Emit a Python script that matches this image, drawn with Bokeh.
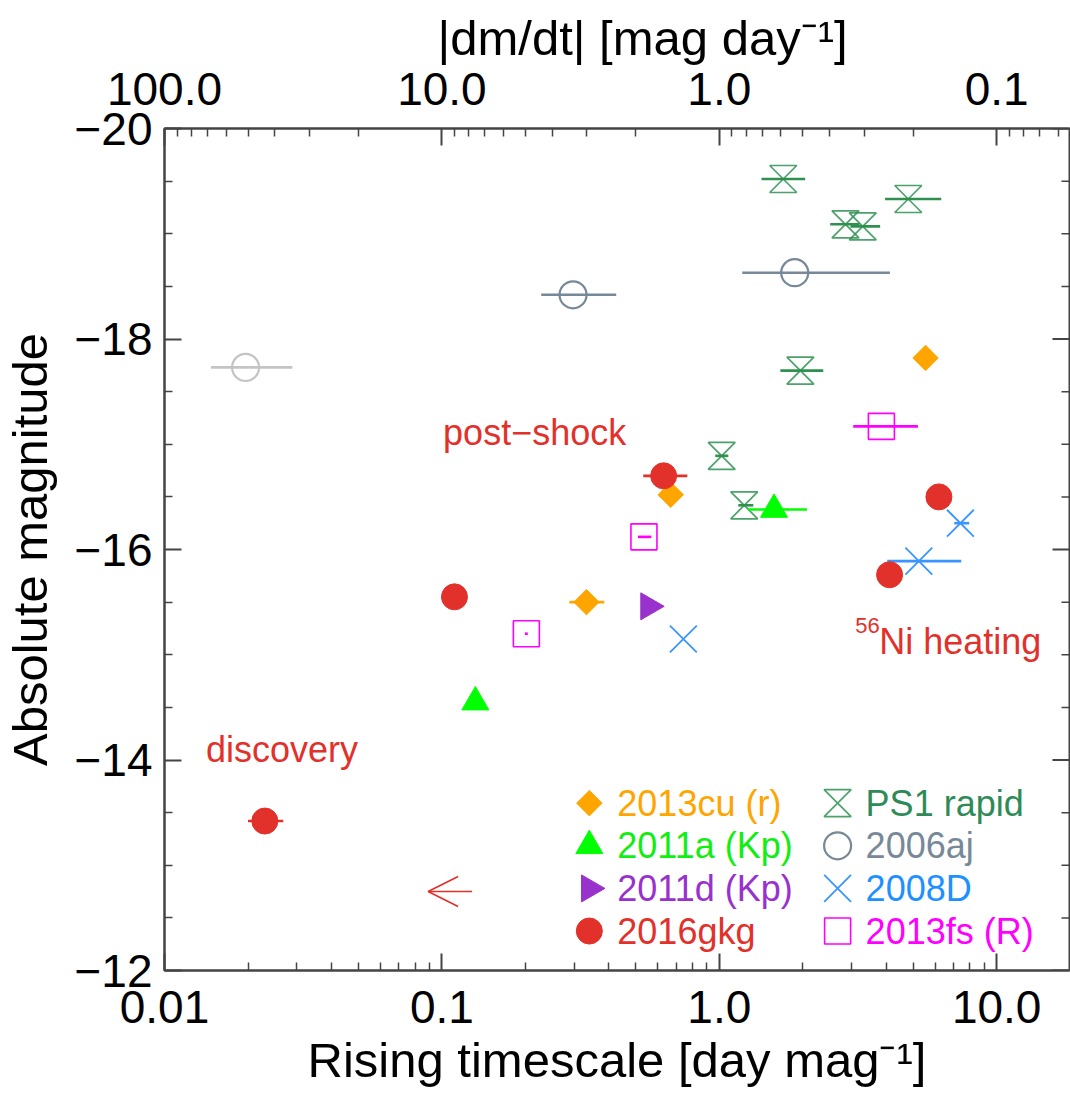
import numpy as np
from bokeh.plotting import figure
from bokeh.models import (Range1d, LogScale, LogAxis, FixedTicker,
                          CustomJSTickFormatter, Label, Arrow, OpenHead)
from bokeh.embed import file_html
from bokeh.resources import INLINE

# ---------------- data: rising timescale [day/mag] vs peak absolute magnitude ----------------
# PS1 rapid transients
ps1_x = [1.70, 2.85, 3.29, 4.80, 1.96, 1.02, 1.23]
ps1_lo = [1.42, 2.51, 2.97, 3.96, 1.66, 0.967, 1.171]
ps1_hi = [2.04, 3.20, 3.80, 6.31, 2.37, 1.078, 1.326]
ps1_mag = [-19.52, -19.09, -19.07, -19.33, -17.70, -16.89, -16.42]

# SN 2006aj
aj_x = [0.297, 1.87]
aj_lo = [0.228, 1.21]
aj_hi = [0.425, 4.12]
aj_mag = [-18.42, -18.63]

# SN 2006aj, earliest phase
aj0_x = [0.0196]
aj0_lo = [0.0147]
aj0_hi = [0.0289]
aj0_mag = [-17.73]

# SN 2013cu (r)
cu_x = [0.332, 0.668, 5.54]
cu_lo = [0.288, 0.668, 5.54]
cu_hi = [0.385, 0.668, 5.54]
cu_mag = [-15.50, -16.52, -17.82]

# KSN 2011a (Kp)
k11a_x = [0.132, 1.575]
k11a_lo = [0.132, 1.27]
k11a_hi = [0.132, 2.07]
k11a_mag = [-14.55, -16.38]

# KSN 2011d (Kp)
k11d_x = [0.556]
k11d_mag = [-15.46]

# SN 2008D
d08_x = [0.742, 5.24, 7.40]
d08_lo = [0.742, 4.03, 7.03]
d08_hi = [0.742, 7.45, 7.96]
d08_mag = [-15.15, -15.89, -16.25]

# SN 2013fs (R)
fs_x = [0.2016, 0.535, 3.84]
fs_lo = [0.199, 0.509, 3.04]
fs_hi = [0.204, 0.569, 5.20]
fs_mag = [-15.20, -16.12, -17.17]

# SN 2016gkg
gkg_x = [0.0230, 0.111, 0.630, 4.11, 6.19]
gkg_lo = [0.0200, 0.111, 0.532, 4.11, 6.19]
gkg_hi = [0.0268, 0.111, 0.767, 4.11, 6.19]
gkg_mag = [-13.42, -15.55, -16.70, -15.76, -16.50]

# SN 2016gkg limit (arrow from the bound towards shorter timescales)
gkg_limit_from = 0.1285
gkg_limit_to = 0.0892
gkg_limit_mag = -12.75

# legend layout (two columns, four rows)
legend_col_x = [0.34, 2.67]
legend_row_mag = [-13.59, -13.185, -12.78, -12.375]

# axis ticks
x_major = [0.01, 0.1, 1.0, 10.0]
x_minor = [m * 10.0 ** e for e in (-2, -1, 0) for m in range(2, 10)]
rate_major = [100.0, 10.0, 1.0, 0.1]
rate_minor = [m * 10.0 ** e for e in (1, 0, -1) for m in range(2, 10)] + [0.09, 0.08, 0.07, 0.06]
y_major = [-20, -18, -16, -14, -12]
y_minor = [-19.5, -19, -18.5, -17.5, -17, -16.5, -15.5, -15, -14.5, -13.5, -13, -12.5]

# ---------------- styling ----------------
RED = "#e2312b"
ORANGE = "#ffa500"
LIME = "#00ff00"
ORCHID = "#9932cc"
GREEN = "#2e9150"
SLATE = "#778899"
LIGHT = "#c4c4c4"
BLUE = "#3a95ff"
MAGENTA = "#ff00ff"
AXIS = "#444444"
FONT = "Liberation Sans"

X_START, X_END = 0.01, 18.3
Y_TOP, Y_BOTTOM = -20.0, -12.0
FRAME_W, FRAME_H = 905, 842
PX_PER_DEC = FRAME_W / np.log10(X_END / X_START)
PX_PER_MAG = FRAME_H / (Y_BOTTOM - Y_TOP)

p = figure(x_axis_type="log", x_range=Range1d(X_START, X_END),
           y_range=Range1d(Y_BOTTOM, Y_TOP),
           frame_width=FRAME_W, frame_height=FRAME_H,
           min_border_left=163, min_border_top=128, min_border_bottom=126, min_border_right=2,
           output_backend="svg", toolbar_location=None)
p.outline_line_color = AXIS
p.outline_line_width = 2
p.xgrid.visible = False
p.ygrid.visible = False
p.background_fill_color = "white"
p.border_fill_color = "white"

x_fmt = CustomJSTickFormatter(code="""
    return tick >= 1 ? tick.toFixed(1) : String(Number(tick.toPrecision(6)));
""")
y_fmt = CustomJSTickFormatter(code="""
    return (tick < 0 ? "\\u2212" : "") + Math.abs(tick).toFixed(0);
""")


def style_axis(ax):
    ax.axis_line_color = AXIS
    ax.axis_line_width = 2
    ax.major_tick_line_color = AXIS
    ax.major_tick_line_width = 2
    ax.minor_tick_line_color = AXIS
    ax.minor_tick_line_width = 1.5
    ax.major_tick_in = 17
    ax.major_tick_out = 0
    ax.minor_tick_in = 8
    ax.minor_tick_out = 0
    ax.major_label_text_font = FONT
    ax.major_label_text_font_size = "46px"
    ax.major_label_text_color = "black"
    ax.axis_label_text_font = FONT
    ax.axis_label_text_font_size = "49px"
    ax.axis_label_text_font_style = "normal"
    ax.axis_label_text_color = "black"


xa = p.xaxis[0]
xa.ticker = FixedTicker(ticks=x_major, minor_ticks=x_minor)
xa.formatter = x_fmt
xa.axis_label = "Rising timescale [day mag\u207b\u00b9]"
style_axis(xa)
xa.major_label_standoff = 20
xa.axis_label_standoff = 7

ya = p.yaxis[0]
ya.ticker = FixedTicker(ticks=y_major, minor_ticks=y_minor)
ya.formatter = y_fmt
ya.axis_label = "Absolute magnitude"
style_axis(ya)
ya.major_label_standoff = 12
ya.axis_label_standoff = 14

# |dm/dt| on top is the inverse of the rising timescale
p.extra_x_ranges = {"rate": Range1d(1.0 / X_START, 1.0 / X_END)}
p.extra_x_scales = {"rate": LogScale()}
top = LogAxis(x_range_name="rate")
top.ticker = FixedTicker(ticks=rate_major, minor_ticks=rate_minor)
top.formatter = x_fmt
style_axis(top)
top.major_label_standoff = 24
p.add_layout(top, "above")

# title of the upper axis
p.title.text = "|dm/dt| [mag day\u207b\u00b9]"
p.title.align = "left"
p.title.offset = 273
p.title.standoff = 10
p.title.text_font = FONT
p.title.text_font_size = "49px"
p.title.text_font_style = "normal"
p.title.text_color = "black"

# inward ticks along the right edge of the frame
p.ray(x=[X_END] * len(y_major), y=y_major, length=17, length_units="screen",
      angle=np.pi, line_color=AXIS, line_width=2)
p.ray(x=[X_END] * len(y_minor), y=y_minor, length=8, length_units="screen",
      angle=np.pi, line_color=AXIS, line_width=1.5)


def hbars(x_lo, x_hi, mag, color, width=2.6):
    keep = [i for i in range(len(mag)) if x_hi[i] > x_lo[i]]
    if keep:
        p.segment(x0=[x_lo[i] for i in keep], x1=[x_hi[i] for i in keep],
                  y0=[mag[i] for i in keep], y1=[mag[i] for i in keep],
                  line_color=color, line_width=width)


def hourglass(xs, mags, half=13.5):
    """Bow-tie outline (two opposed triangles) around each point, sized in pixels."""
    dl = 10.0 ** (half / PX_PER_DEC)
    dm = half / PX_PER_MAG
    px = [[x / dl, x * dl, x / dl, x * dl] for x in xs]
    py = [[m - dm, m - dm, m + dm, m + dm] for m in mags]
    return px, py


# 2006aj (early, light) and 2006aj
hbars(aj0_lo, aj0_hi, aj0_mag, LIGHT)
p.scatter(aj0_x, aj0_mag, marker="circle", size=27, fill_color=None,
          line_color=LIGHT, line_width=2.2)
hbars(aj_lo, aj_hi, aj_mag, SLATE)
p.scatter(aj_x, aj_mag, marker="circle", size=27, fill_color=None,
          line_color=SLATE, line_width=2.2)

# PS1 rapid
hbars(ps1_lo, ps1_hi, ps1_mag, GREEN)
hx, hy = hourglass(ps1_x, ps1_mag)
p.patches(hx, hy, fill_color=None, line_color=GREEN, line_alpha=0.85, line_width=1.7)

# 2013fs
hbars(fs_lo, fs_hi, fs_mag, MAGENTA)
p.scatter(fs_x, fs_mag, marker="square", size=26, fill_color=None,
          line_color=MAGENTA, line_width=1.6)

# 2008D
hbars(d08_lo, d08_hi, d08_mag, BLUE)
p.scatter(d08_x, d08_mag, marker="x", size=38, line_color=BLUE, line_width=1.8)

# 2011d
p.scatter(k11d_x, k11d_mag, marker="triangle", angle=-np.pi / 2, size=27,
          fill_color=ORCHID, line_color=ORCHID)

# 2011a
hbars(k11a_lo, k11a_hi, k11a_mag, LIME)
p.scatter(k11a_x, k11a_mag, marker="triangle", size=27, fill_color=LIME, line_color=LIME)

# 2013cu
hbars(cu_lo, cu_hi, cu_mag, ORANGE)
p.scatter(cu_x, cu_mag, marker="square", angle=np.pi / 4, size=18,
          fill_color=ORANGE, line_color=ORANGE)

# 2016gkg
hbars(gkg_lo, gkg_hi, gkg_mag, RED)
p.scatter(gkg_x, gkg_mag, marker="circle", size=26, fill_color=RED, line_color=RED)
p.add_layout(Arrow(end=OpenHead(size=30, line_color=RED, line_width=1.6),
                   x_start=gkg_limit_from, y_start=gkg_limit_mag,
                   x_end=gkg_limit_to, y_end=gkg_limit_mag,
                   line_color=RED, line_width=1.6))


# phase annotations
def note(text, x, y, size="36px", x_off=0, y_off=0):
    p.add_layout(Label(x=x, y=y, text=text, x_offset=x_off, y_offset=y_off + 12,
                       text_font=FONT, text_font_size=size, text_color=RED,
                       text_baseline="alphabetic", text_align="left"))


note("post\u2212shock", 0.101, -17.0)
note("discovery", 0.0141, -13.99)
note("56", 3.09, -15.01, size="22px", y_off=16)
note("Ni heating", 3.09, -15.01, x_off=24)

# legend
c1, c2 = legend_col_x
r = legend_row_mag
p.scatter([c1], [r[0]], marker="square", angle=np.pi / 4, size=18,
          fill_color=ORANGE, line_color=ORANGE)
p.scatter([c1], [r[1]], marker="triangle", size=27, fill_color=LIME, line_color=LIME)
p.scatter([c1], [r[2]], marker="triangle", angle=-np.pi / 2, size=27,
          fill_color=ORCHID, line_color=ORCHID)
p.scatter([c1], [r[3]], marker="circle", size=26, fill_color=RED, line_color=RED)
lx, ly = hourglass([c2], [r[0]])
p.patches(lx, ly, fill_color=None, line_color=GREEN, line_alpha=0.85, line_width=1.7)
p.scatter([c2], [r[1]], marker="circle", size=27, fill_color=None, line_color=SLATE, line_width=2.2)
p.scatter([c2], [r[2]], marker="x", size=38, line_color=BLUE, line_width=1.8)
p.scatter([c2], [r[3]], marker="square", size=26, fill_color=None, line_color=MAGENTA, line_width=1.6)

legend_entries = [
    (c1, r[0], "2013cu (r)", ORANGE),
    (c1, r[1], "2011a (Kp)", "#11ee11"),
    (c1, r[2], "2011d (Kp)", ORCHID),
    (c1, r[3], "2016gkg", RED),
    (c2, r[0], "PS1 rapid", "#2e8b57"),
    (c2, r[1], "2006aj", SLATE),
    (c2, r[2], "2008D", "#1e90ff"),
    (c2, r[3], "2013fs (R)", MAGENTA),
]
for x, y, text, color in legend_entries:
    p.add_layout(Label(x=x, y=y, text=text, x_offset=28, text_font=FONT,
                       text_font_size="36px", text_color=color,
                       text_baseline="middle", text_align="left"))

open("out.html", "w").write(file_html(p, INLINE))
